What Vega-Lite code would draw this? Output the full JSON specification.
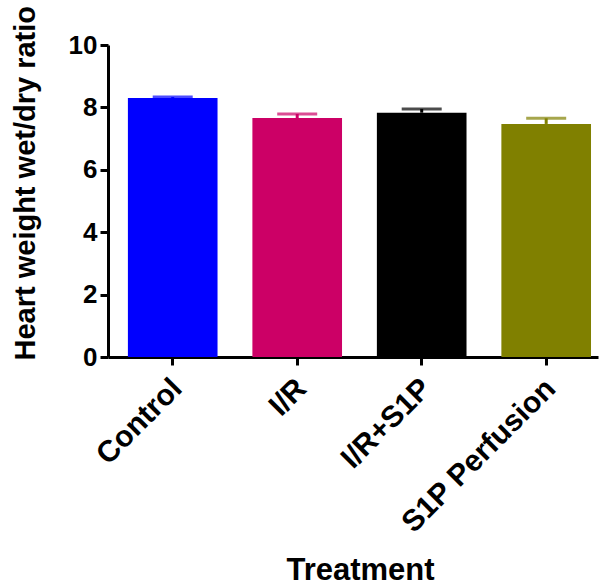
{
  "$schema": "https://vega.github.io/schema/vega-lite/v6.json",
  "autosize": "none",
  "padding": {"left": 108, "top": 45, "right": 1, "bottom": 228},
  "width": 490,
  "height": 312,
  "background": "white",
  "config": {
    "view": {"stroke": null},
    "font": "Liberation Sans",
    "axis": {
      "grid": false,
      "domainColor": "black",
      "domainWidth": 3,
      "tickColor": "black",
      "tickWidth": 3,
      "tickSize": 8,
      "labelColor": "black",
      "labelFont": "Liberation Sans",
      "labelFontWeight": "bold",
      "titleColor": "black",
      "titleFont": "Liberation Sans",
      "titleFontWeight": "bold"
    }
  },
  "data": {
    "values": [
      {"treatment": "Control", "mean": 8.30, "upper": 8.33},
      {"treatment": "I/R", "mean": 7.66, "upper": 7.79},
      {"treatment": "I/R+S1P", "mean": 7.83, "upper": 7.95},
      {"treatment": "S1P Perfusion", "mean": 7.47, "upper": 7.65}
    ]
  },
  "encoding": {
    "x": {
      "field": "treatment",
      "type": "nominal",
      "sort": null,
      "scale": {"paddingInner": 0.28, "paddingOuter": 0.108, "align": 0.74},
      "axis": {
        "title": "Treatment",
        "titleFontSize": 31,
        "titleX": 252,
        "titleY": 222,
        "titleBaseline": "alphabetic",
        "labelFontSize": 30,
        "labelAngle": -45,
        "labelAlign": "right",
        "labelBaseline": "top",
        "labelPadding": 8,
        "labelOffset": -6,
        "labelLimit": 0
      }
    },
    "color": {
      "field": "treatment",
      "type": "nominal",
      "sort": null,
      "scale": {
        "domain": ["Control", "I/R", "I/R+S1P", "S1P Perfusion"],
        "range": ["#0000FF", "#CC0066", "#000000", "#808000"]
      },
      "legend": null
    }
  },
  "layer": [
    {
      "mark": {"type": "rule", "strokeWidth": 3},
      "encoding": {
        "y": {"field": "mean", "type": "quantitative"},
        "y2": {"field": "upper"}
      }
    },
    {
      "mark": {"type": "tick", "size": 40, "thickness": 3},
      "encoding": {
        "y": {"field": "upper", "type": "quantitative"}
      }
    },
    {
      "mark": {"type": "bar"},
      "encoding": {
        "y": {
          "field": "mean",
          "type": "quantitative",
          "scale": {"domain": [0, 10], "nice": false},
          "axis": {
            "title": "Heart weight wet/dry ratio",
            "titleFontSize": 29,
            "titleAngle": -90,
            "titleX": -83,
            "titleY": 315,
            "titleAlign": "left",
            "titleBaseline": "middle",
            "labelFontSize": 26,
            "labelPadding": 3,
            "values": [0, 2, 4, 6, 8, 10]
          }
        }
      }
    }
  ]
}
